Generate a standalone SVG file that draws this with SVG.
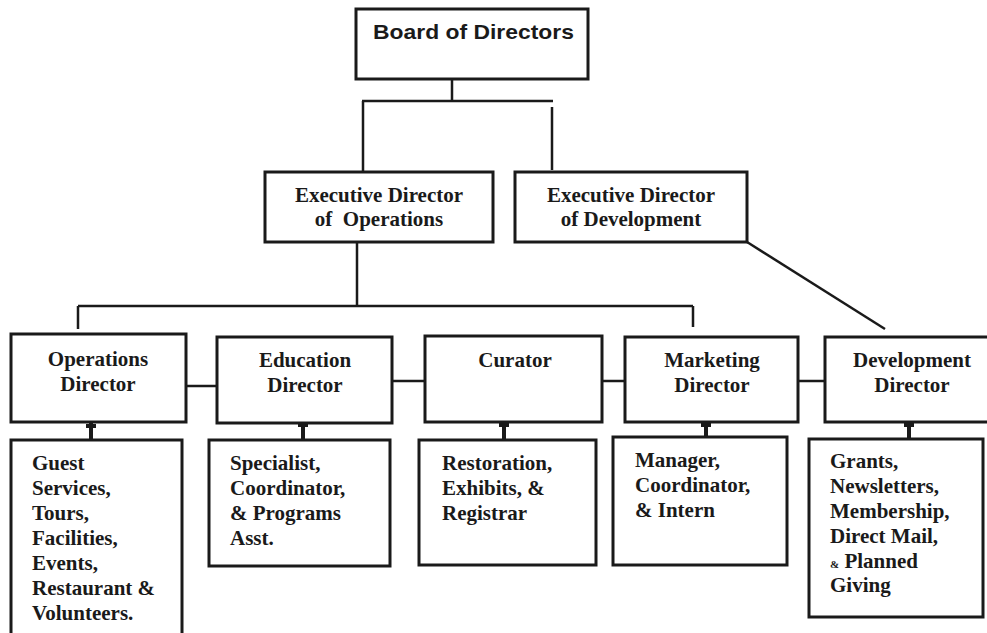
<svg xmlns="http://www.w3.org/2000/svg" width="987" height="633" viewBox="0 0 987 633">
<style>
.box{fill:#fff;stroke:#1a1a1a;stroke-width:3}
.ln{fill:none;stroke:#1a1a1a;stroke-width:2.5}
.stub{fill:none;stroke:#1a1a1a;stroke-width:4}
.t{font-family:"Liberation Serif","Times New Roman",serif;font-weight:bold;font-size:21px;fill:#1a1a1a}
.c{text-anchor:middle}
.s{font-family:"Liberation Sans",Arial,sans-serif;font-weight:bold;font-size:21px;fill:#1a1a1a}
</style>
<rect width="987" height="633" fill="#fff"/>
<g id="connectors">
<path class="ln" d="M452 79 V101 M362 101 H553 M363 101 V172 M552 107 V170"/>
<path class="ln" d="M357 242 V306 M78 306 H693 M78 306 V329 M693 306 V327"/>
<path class="ln" d="M747 242 L885 329"/>
<path class="ln" d="M186 386 H217 M392 381 H425 M602 381 H625 M798 381 H825"/>
<path class="stub" d="M91 422 V440 M86 426 H96 M303 422 V440 M298 425 H308 M504 422 V440 M499 425 H509 M706 422 V438 M701 425 H711 M909 422 V439 M904 425 H914"/>
</g>
<g id="board">
<rect class="box" x="356" y="9" width="232" height="70"/>
<text class="s" x="373" y="39" textLength="201" lengthAdjust="spacingAndGlyphs">Board of Directors</text>
</g>
<g id="exec-ops">
<rect class="box" x="265" y="172" width="228" height="70"/>
<text class="t c" x="379" y="202">Executive Director</text>
<text class="t c" x="379" y="226" xml:space="preserve">of  Operations</text>
</g>
<g id="exec-dev">
<rect class="box" x="515" y="172" width="232" height="70"/>
<text class="t c" x="631" y="202">Executive Director</text>
<text class="t c" x="631" y="226">of Development</text>
</g>
<g id="ops-dir">
<rect class="box" x="11" y="334" width="175" height="88"/>
<text class="t c" x="98" y="366">Operations</text>
<text class="t c" x="98" y="391">Director</text>
</g>
<g id="edu-dir">
<rect class="box" x="217" y="337" width="175" height="86"/>
<text class="t c" x="305" y="367">Education</text>
<text class="t c" x="305" y="392">Director</text>
</g>
<g id="curator">
<rect class="box" x="425" y="336" width="177" height="86"/>
<text class="t c" x="515" y="367">Curator</text>
</g>
<g id="mkt-dir">
<rect class="box" x="625" y="337" width="173" height="85"/>
<text class="t c" x="712" y="367">Marketing</text>
<text class="t c" x="712" y="392">Director</text>
</g>
<g id="dev-dir">
<rect class="box" x="825" y="337" width="175" height="85"/>
<text class="t c" x="912" y="367">Development</text>
<text class="t c" x="912" y="392">Director</text>
</g>
<g id="ops-staff">
<rect class="box" x="11" y="440" width="171" height="200"/>
<text class="t" x="32" y="470">Guest</text>
<text class="t" x="32" y="495">Services,</text>
<text class="t" x="32" y="520">Tours,</text>
<text class="t" x="32" y="545">Facilities,</text>
<text class="t" x="32" y="570">Events,</text>
<text class="t" x="32" y="595">Restaurant &amp;</text>
<text class="t" x="32" y="620">Volunteers.</text>
</g>
<g id="edu-staff">
<rect class="box" x="209" y="440" width="181" height="126"/>
<text class="t" x="230" y="470">Specialist,</text>
<text class="t" x="230" y="495">Coordinator,</text>
<text class="t" x="230" y="520">&amp; Programs</text>
<text class="t" x="230" y="545">Asst.</text>
</g>
<g id="cur-staff">
<rect class="box" x="419" y="440" width="177" height="125"/>
<text class="t" x="442" y="470">Restoration,</text>
<text class="t" x="442" y="495">Exhibits, &amp;</text>
<text class="t" x="442" y="520">Registrar</text>
</g>
<g id="mkt-staff">
<rect class="box" x="613" y="437" width="174" height="128"/>
<text class="t" x="635" y="467">Manager,</text>
<text class="t" x="635" y="492">Coordinator,</text>
<text class="t" x="635" y="517">&amp; Intern</text>
</g>
<g id="dev-staff">
<rect class="box" x="809" y="439" width="174" height="178"/>
<text class="t" x="830" y="468">Grants,</text>
<text class="t" x="830" y="493">Newsletters,</text>
<text class="t" x="830" y="518">Membership,</text>
<text class="t" x="830" y="543">Direct Mail,</text>
<text class="t" x="830" y="568"><tspan font-size="11">&amp;</tspan> Planned</text>
<text class="t" x="830" y="592">Giving</text>
</g>
</svg>
